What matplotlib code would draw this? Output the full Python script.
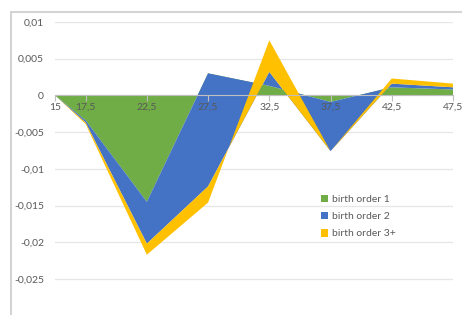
import matplotlib.pyplot as plt
from matplotlib.patches import Rectangle
from matplotlib.ticker import MultipleLocator, FuncFormatter

# ages (category axis) and the three stacked series
ages = [15, 17.5, 22.5, 27.5, 32.5, 37.5, 42.5, 47.5]
age_labels = ["15", "17,5", "22,5", "27,5", "32,5", "37,5", "42,5", "47,5"]
order1 = [0, -0.0034, -0.0145, 0.0030, 0.0013, -0.0009, 0.0011, 0.0008]
order2 = [0, -0.0003, -0.0057, -0.0154, 0.0019, -0.0067, 0.0005, 0.0003]
order3 = [0, -0.0002, -0.0015, -0.0022, 0.0043, 0.0000, 0.0007, 0.0005]
names = ["birth order 1", "birth order 2", "birth order 3+"]
colors = ["#70AD47", "#4472C4", "#FFC000"]

plt.rcParams['font.family'] = ['Lato', 'DejaVu Sans']
grey = '#595959'

fig = plt.figure(figsize=(4.62, 3.15), dpi=100)
ax = fig.add_axes([55 / 462, 0.0003, 398 / 462, 0.93])

ax.stackplot(ages, order1, order2, order3, labels=names, colors=colors,
             linewidth=0)

ax.set_xlim(15, 47.5)
ax.set_ylim(-0.0299, 0.01)
ax.yaxis.set_major_locator(MultipleLocator(0.005))


def comma(v, pos):
    v = round(v, 4)
    if v == 0:
        return "0"
    return f"{v:g}".replace('.', ',')


ax.yaxis.set_major_formatter(FuncFormatter(comma))
ax.set_xticks(ages)
ax.set_xticklabels(age_labels)

ax.yaxis.grid(True, color='#e6e6e6', linewidth=0.9)
ax.yaxis.set_zorder(0.5)
ax.xaxis.set_zorder(3)
ax.tick_params(axis='y', length=0, pad=8, labelsize=7.5, labelcolor=grey)
ax.tick_params(axis='x', length=4, width=0.8, color='#bfbfbf', pad=1.5,
               labelsize=7.5, labelcolor=grey)

for s in ['top', 'right', 'left']:
    ax.spines[s].set_visible(False)
ax.spines['bottom'].set_position(('data', 0))
ax.spines['bottom'].set_color('#bfbfbf')
ax.spines['bottom'].set_linewidth(0.8)

leg = ax.legend(loc='upper left', bbox_to_anchor=(321 / 462, 1 - 195 / 315),
                bbox_transform=fig.transFigure, frameon=False, fontsize=7.5,
                handlelength=0.7, handleheight=0.7, handletextpad=0.4,
                labelspacing=0.75, borderpad=0, borderaxespad=0)
for t in leg.get_texts():
    t.set_color(grey)

# chart area border
fig.patches.append(Rectangle((11 / 462, -0.1), 1.2, 1 - 12 / 315 + 0.1,
                             transform=fig.transFigure, fill=False,
                             edgecolor='#d4d4d4', linewidth=1.5))

fig.savefig('out.png', dpi=100)
